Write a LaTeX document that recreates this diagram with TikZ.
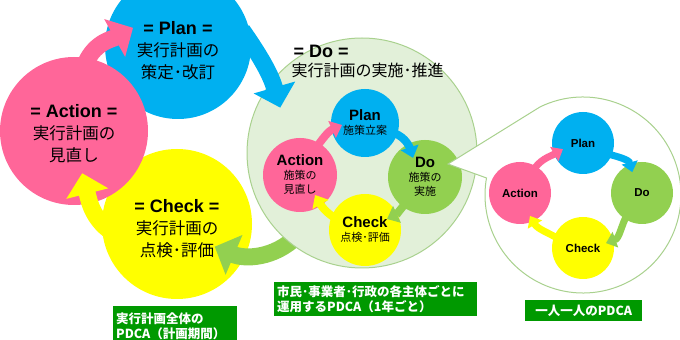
\documentclass[tikz,border=0pt]{standalone}
\usepackage{fontspec}
\setmainfont{Liberation Sans}
\newfontfamily\jp{Noto Sans CJK JP}
\usetikzlibrary{arrows.meta,calc}

\definecolor{pdcablue}{HTML}{00B0F0}
\definecolor{pdcapink}{HTML}{FF6699}
\definecolor{pdcayellow}{HTML}{FFFF00}
\definecolor{pdcagreen}{HTML}{92D050}
\definecolor{dofill}{HTML}{E2F0D9}
\definecolor{doline}{HTML}{A9D18E}
\definecolor{labgreen}{HTML}{009900}

\newcommand{\bigen}{\rmfamily\bfseries\fontsize{18}{22}\selectfont}
\newcommand{\miden}{\rmfamily\bfseries\fontsize{15}{16}\selectfont}

\begin{document}
\begin{tikzpicture}[x=1pt, y=1pt,
    disc/.style={circle, inner sep=0pt, outer sep=0pt, align=center},
    bigtext/.style={align=center, font=\jp\fontsize{16.5}{22}\selectfont},
    bigarr/.style={line width=17pt, -{Triangle[width=42pt,length=21pt]}},
    midarr/.style={line width=8pt, -{Triangle[width=18pt,length=11pt]}},
    smallarr/.style={line width=7pt, -{Triangle[width=16pt,length=10pt]}},
    lab/.style={fill=labgreen, text=white, inner sep=3pt, align=left,
      font=\jp\bfseries\fontsize{12.5}{15.5}\selectfont}]
  \useasboundingbox (0,0) rectangle (680,340);

  % PDCA of the whole plan
  \node[disc, fill=pdcablue, minimum size=146pt] (plan) at (178,294) {};
  \node[disc, fill=pdcayellow, minimum size=150pt] (chk) at (177,116) {};
  \node[disc, fill=pdcapink, minimum size=148pt] (act) at (74,209) {};

  \coordinate (do) at (362,187);
  \draw[bigarr, pdcagreen] ($(do)+(232:105)$) to[out=225, in=-23] ($(chk)+(-31:44)$);
  \node[disc, fill=dofill, draw=doline, line width=1pt, minimum size=230pt] (dobig) at (do) {};

  \node[bigtext, yshift=-5pt] (plantext) at (plan) {{\bigen = Plan =}\\実行計画の\\策定･改訂};
  \node[bigtext, yshift=-5pt] (chktext) at (chk) {{\bigen = Check =}\\実行計画の\\点検･評価};
  \node[bigtext, yshift=-3pt] (acttext) at (act) {{\bigen = Action =}\\実行計画の\\見直し};

  \draw[bigarr, pdcablue] ($(plan)+(14:66)$) to[out=-55, in=106] ($(do)+(151:93.5)$);
  \draw[bigarr, pdcapink] ($(act)+(80:70)$) to[out=65, in=209] ($(plan)+(158:48.5)$);
  \draw[bigarr, pdcayellow] ($(chk)+(190:62)$) to[out=150, in=-76] ($(act)+(-79:43)$);

  % PDCA of each actor
  \node[disc, fill=pdcablue, minimum size=68pt, font=\jp\fontsize{11}{14}\selectfont]
    (iplan) at (365,217) {{\miden Plan}\\施策立案};
  \node[disc, fill=pdcagreen, minimum size=74pt, font=\jp\fontsize{11}{14}\selectfont]
    (ido) at (425,163) {{\miden Do}\\施策の\\実施};
  \node[disc, fill=pdcayellow, minimum size=72pt, font=\jp\fontsize{11}{14}\selectfont]
    (ichk) at (365,110) {{\miden Check}\\点検･評価};
  \node[disc, fill=pdcapink, minimum size=74pt, font=\jp\fontsize{11}{14}\selectfont]
    (iact) at (300,165) {{\miden Action}\\施策の\\見直し};

  \draw[midarr, pdcapink] ($(iact)+(60:28)$) to[out=55, in=204] ($(iplan)+(185:23)$);
  \draw[midarr, pdcablue] ($(iplan)+(-20:26)$) to[out=-10, in=108] ($(ido)+(122:22.5)$);
  \draw[midarr, pdcagreen] ($(ido)+(235:28)$) to[out=225, in=25] ($(ichk)+(26.6:24.6)$);
  \draw[midarr, pdcayellow] ($(ichk)+(160:28)$) to[out=150, in=-60] ($(iact)+(-53:25)$);

  % callout: PDCA of each person
  \coordinate (solo) at (583,145);
  \coordinate (tip) at (448,176);
  \draw[doline, line width=1pt, fill=white] (tip) -- ($(solo)+(116:98)$)
    arc[start angle=116, end angle=-190, radius=98pt] -- cycle;

  \node[disc, fill=pdcablue, minimum size=62pt, font=\bfseries\fontsize{11.5}{14}\selectfont]
    (cplan) at (583,197) {Plan};
  \node[disc, fill=pdcagreen, minimum size=62pt, font=\bfseries\fontsize{11.5}{14}\selectfont]
    (cdo) at (642,147) {Do};
  \node[disc, fill=pdcayellow, minimum size=62pt, font=\bfseries\fontsize{11.5}{14}\selectfont]
    (cchk) at (583,92) {Check};
  \node[disc, fill=pdcapink, minimum size=62pt, font=\bfseries\fontsize{11.5}{14}\selectfont]
    (cact) at (520,147) {Action};

  \draw[smallarr, pdcapink] ($(cact)+(60:24)$) to[out=60, in=210] ($(cplan)+(197:21)$);
  \draw[smallarr, pdcablue] ($(cplan)+(-25:24)$) to[out=-15, in=105] ($(cdo)+(115:23)$);
  \draw[smallarr, pdcagreen] ($(cdo)+(235:24)$) to[out=240, in=20] ($(cchk)+(12:23.5)$);
  \draw[smallarr, pdcayellow] ($(cchk)+(160:24)$) to[out=150, in=-60] ($(cact)+(-66.5:25)$);

  % titles and labels
  \node[anchor=west, font=\bigen] (dotitle) at (290,289) {= Do =};
  \node[anchor=west, font=\jp\fontsize{16}{20}\selectfont] (dosub) at (288,269.5) {実行計画の実施･推進};

  \node[lab, anchor=north west, text width=118pt, minimum height=40pt] (labwhole) at (113,34)
    {実行計画全体の\\PDCA（計画期間）};
  \node[lab, anchor=north west, text width=197pt] (labactor) at (274,58)
    {市民･事業者･行政の各主体ごとに\\運用するPDCA（1年ごと）};
  \node[lab, anchor=north west, minimum width=117pt, minimum height=21pt, align=center] (labperson) at (525,40)
    {一人一人のPDCA};
\end{tikzpicture}
\end{document}
